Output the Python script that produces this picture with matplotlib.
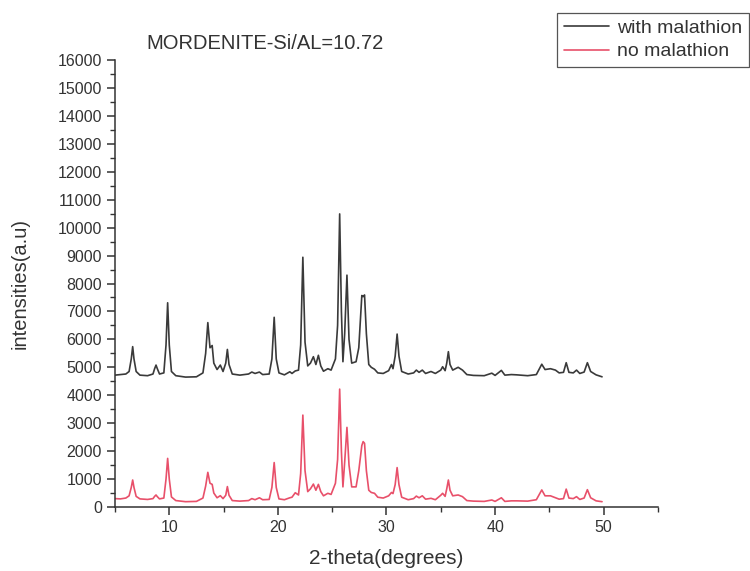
import matplotlib
matplotlib.use("Agg")
import matplotlib.pyplot as plt
from matplotlib.ticker import MultipleLocator

plt.rcParams['font.family'] = ['Liberation Sans', 'DejaVu Sans']

# XRD patterns of mordenite (Si/Al = 10.72)
two_theta = [
    5.0, 5.5, 6.0, 6.3, 6.5, 6.63, 6.75, 6.95, 7.3, 8.0, 8.5, 8.65, 8.78, 8.9,
    9.1, 9.5, 9.7, 9.85, 10.0, 10.2, 10.6, 11.5, 12.5, 13.1, 13.35, 13.55,
    13.75, 13.95, 14.1, 14.4, 14.7, 14.95, 15.2, 15.35, 15.5, 15.8, 16.5, 17.3,
    17.6, 17.9, 18.3, 18.6, 19.2, 19.45, 19.66, 19.85, 20.1, 20.6, 21.1, 21.3,
    21.6, 21.9, 22.1, 22.3, 22.5, 22.75, 23.0, 23.27, 23.5, 23.73, 23.95, 24.2,
    24.6, 24.9, 25.3, 25.5, 25.69, 25.85, 25.99, 26.15, 26.36, 26.55, 26.8,
    27.2, 27.45, 27.73, 27.85, 27.98, 28.15, 28.37, 28.6, 28.9, 29.2, 29.7,
    30.2, 30.46, 30.6, 30.8, 30.98, 31.15, 31.4, 32.0, 32.5, 32.75, 33.0, 33.3,
    33.6, 34.1, 34.5, 35.0, 35.17, 35.4, 35.55, 35.7, 35.85, 36.1, 36.6, 37.0,
    37.4, 38.0, 39.0, 39.7, 40.0, 40.58, 40.9, 41.5, 42.0, 43.0, 43.8, 44.3,
    44.6, 45.1, 45.56, 45.9, 46.3, 46.55, 46.8, 47.2, 47.5, 47.8, 48.2, 48.5,
    48.8, 49.3, 49.85,
]

with_malathion = [
    4720, 4740, 4760, 4850, 5300, 5740, 5300, 4850, 4720, 4700, 4760, 4950, 5080, 4950,
    4760, 4800, 5800, 7310, 5800, 4850, 4700, 4650, 4660, 4800, 5500, 6600,
    5700, 5780, 5150, 4920, 5080, 4850, 5150, 5640, 5100, 4760, 4720, 4760,
    4830, 4780, 4830, 4740, 4760, 5300, 6790, 5300, 4800, 4730, 4840, 4780,
    4870, 4900, 5800, 8940, 5900, 5050, 5150, 5380, 5100, 5430, 5050, 4860,
    4950, 4900, 5300, 6500, 10490, 7000, 5200, 6200, 8300, 6000, 5150,
    5200, 5700, 7570, 7530, 7590, 6200, 5100, 5000, 4930, 4800, 4780,
    4880, 5100, 4950, 5400, 6190, 5400, 4850, 4760, 4800, 4900, 4820, 4900,
    4780, 4850, 4780, 4900, 5020, 4880, 5150, 5560, 5100, 4900, 5000, 4900,
    4740, 4710, 4700, 4790, 4710, 4890, 4720, 4740, 4730, 4700, 4740, 5110,
    4920, 4950, 4900, 4800, 4820, 5165, 4820, 4800, 4900, 4780, 4830, 5165,
    4850, 4730, 4660,
]

no_malathion = [
    300, 290, 320, 400, 700, 966, 700, 380, 290, 270, 300, 380, 430, 370,
    290, 320, 1000, 1740, 1000, 360, 230, 190, 200, 320, 750, 1240,
    850, 810, 500, 330, 405, 300, 420, 730, 420, 230, 210, 230,
    300, 260, 330, 260, 270, 700, 1590, 700, 290, 260, 330, 350,
    510, 430, 1200, 3290, 1300, 550, 650, 820, 600, 810, 550, 400,
    490, 450, 850, 1700, 4220, 2000, 720, 1600, 2850, 1500, 720,
    720, 1300, 2200, 2340, 2280, 1300, 600, 520, 490, 350, 320,
    400, 520, 480, 800, 1410, 800, 350, 260, 300, 390, 330, 400,
    280, 310, 260, 420, 490, 380, 650, 966, 600, 400, 430, 370,
    230, 210, 200, 250, 200, 330, 200, 220, 220, 210, 260, 610,
    400, 400, 330, 280, 300, 640, 320, 300, 370, 270, 320, 620,
    330, 220, 190,
]

fig = plt.figure(figsize=(7.5, 5.71), dpi=100)
ax = fig.add_axes([0.1533, 0.1121, 0.7240, 0.7828])

line_kw = dict(lw=1.2, solid_joinstyle='round', solid_capstyle='round')
ax.plot(two_theta, with_malathion, color='#3a3a3a', label='with malathion', **line_kw)
ax.plot(two_theta, no_malathion, color='#e8506a', label='no malathion', **line_kw)

ax.set_xlim(5, 55)
ax.set_ylim(0, 16000)
ax.xaxis.set_major_locator(MultipleLocator(10))
ax.xaxis.set_minor_locator(MultipleLocator(5))
ax.yaxis.set_major_locator(MultipleLocator(1000))
ax.yaxis.set_minor_locator(MultipleLocator(500))

for side in ('top', 'right'):
    ax.spines[side].set_visible(False)
for side in ('left', 'bottom'):
    ax.spines[side].set_color('#333333')
    ax.spines[side].set_linewidth(1.1)

ax.tick_params(which='major', direction='out', length=6, width=1.1,
               color='#333333', labelsize=11.5, labelcolor='#333333')
ax.tick_params(which='minor', direction='out', length=3.5, width=1.0,
               color='#333333')

ax.set_xlabel('2-theta(degrees)', fontsize=15, color='#333333', labelpad=10)
ax.set_ylabel('intensities(a.u)', fontsize=14.5, color='#333333', labelpad=20)

ax.text(0.057, 1.015, 'MORDENITE-Si/AL=10.72', transform=ax.transAxes,
        fontsize=14.5, color='#333333', ha='left', va='bottom')

leg = fig.legend(loc='upper right', bbox_to_anchor=(0.998, 0.978),
                 fontsize=14, frameon=True, fancybox=False, framealpha=1,
                 edgecolor='#555555', handlelength=2.3, handletextpad=0.4,
                 borderpad=0.35, labelspacing=0.3, borderaxespad=0)
leg.get_frame().set_linewidth(0.9)
for t in leg.get_texts():
    t.set_color('#333333')

fig.savefig('out.png', dpi=100)
